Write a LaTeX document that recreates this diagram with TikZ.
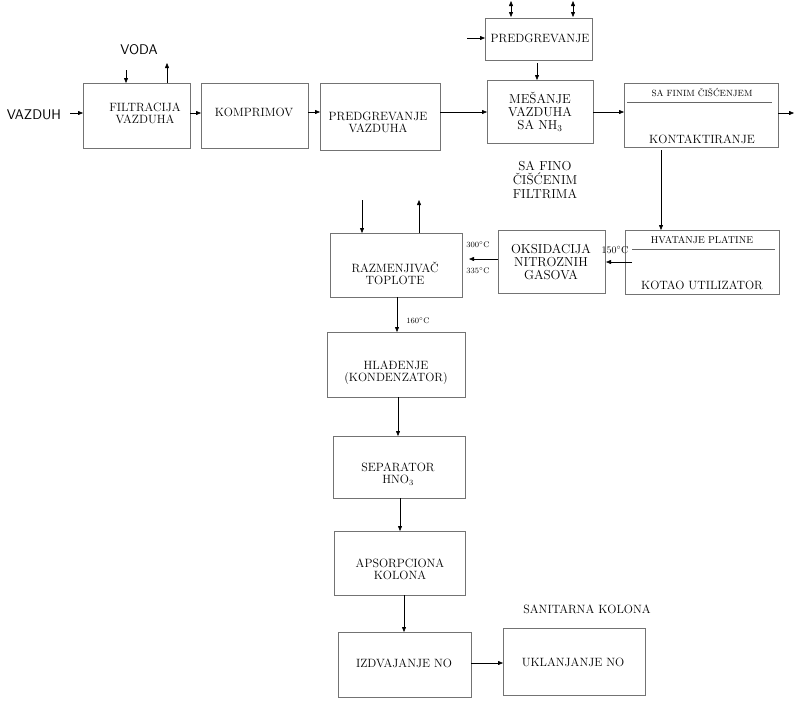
\documentclass[tikz,border=0pt]{standalone}
\usetikzlibrary{arrows.meta}
\begin{document}
\begin{tikzpicture}[x=1pt,y=-1pt,font=\fontsize{12}{12}\selectfont,
  box/.style={draw=black!55,line width=0.5pt},
  flow/.style={-{Triangle[length=5pt,width=4pt]},line width=0.4pt},
  lbl/.style={align=center,inner sep=1pt},
  temp/.style={font=\fontsize{8}{8}\selectfont,inner sep=0pt}]

\useasboundingbox (0,0) rectangle (794,702);

% boxes
\draw[box] (83,83) rectangle (190,148);
\node[lbl,anchor=north] (filt) at (146,105) {};
\node[lbl] at (145,113) {FILTRACIJA\\VAZDUHA};

\draw[box] (201,83) rectangle (308,148);
\node[lbl] at (254,112) {KOMPRIMOV};

\draw[box] (320,83) rectangle (440,150);
\node[lbl] at (378,122) {PREDGREVANJE\\VAZDUHA};

\draw[box] (485,18) rectangle (592,60);
\node[lbl] at (540,38) {PREDGREVANJE};

\draw[box] (487,80) rectangle (593,143);
\node[lbl,font=\fontsize{13}{13}\selectfont] at (540,112) {MEŠANJE\\VAZDUHA\\SA NH$_3$};

\node[lbl,font=\fontsize{13}{14}\selectfont] at (545,180) {SA FINO\\ČIŠĆENIM\\FILTRIMA};

\draw[box] (624,83) rectangle (778,147);
\node[lbl,font=\fontsize{9}{9}\selectfont] at (702,92) {SA FINIM ČIŠĆENJEM};
\draw[black!60] (627,102) -- (772,102);
\node[lbl] at (702,139) {KONTAKTIRANJE};

\draw[box] (625,230) rectangle (779,294);
\node[lbl,font=\fontsize{10}{10}\selectfont] at (702,240) {HVATANJE PLATINE};
\draw[black!60] (632,249) -- (775,249);
\node[lbl] at (702,285) {KOTAO UTILIZATOR};

\draw[box] (498,230) rectangle (605,293);
\node[lbl,font=\fontsize{13}{13}\selectfont] at (551,262) {OKSIDACIJA\\NITROZNIH\\GASOVA};

\draw[box] (330,233) rectangle (462,297);
\node[lbl] at (395,273) {RAZMENJIVAČ\\TOPLOTE};

\draw[box] (327,332) rectangle (465,397);
\node[lbl] at (396,373) {HLAĐENJE\\(KONDENZATOR)};

\draw[box] (333,436) rectangle (465,498);
\node[lbl] at (398,474) {SEPARATOR\\HNO$_3$};

\draw[box] (334,531) rectangle (465,595);
\node[lbl] at (400,569) {APSORPCIONA\\KOLONA};

\draw[box] (338,632) rectangle (471,697);
\node[lbl] at (404,663) {IZDVAJANJE NO};

\draw[box] (503,628) rectangle (645,695);
\node[lbl] at (573,662) {UKLANJANJE NO};
\node[lbl] at (587,609) {SANITARNA KOLONA};

% free texts
\node[lbl,font=\sffamily\fontsize{14}{14}\selectfont] at (34,115) {VAZDUH};
\node[lbl,font=\sffamily\fontsize{14}{14}\selectfont] at (139,50) {VODA};

% temperatures
\node[temp] at (478,245) {300$^\circ$C};
\node[temp] at (478,271) {335$^\circ$C};
\node[temp,font=\fontsize{10}{10}\selectfont] at (615,250) {150$^\circ$C};
\node[temp] at (418,321) {160$^\circ$C};

% connectors
\draw[flow] (70,113) -- (83,113);
\draw[flow] (126,70) -- (126,83);
\draw[flow] (167,83) -- (167,63);
\draw[flow] (190,113) -- (201,113);
\draw[flow] (308,112) -- (320,112);
\draw[flow] (440,112) -- (487,112);
\draw[flow] (593,112) -- (624,112);
\draw[flow] (778,113) -- (794,113);
\draw[flow] (467,38) -- (485,38);
\draw[flow] (537,63) -- (537,80);
\foreach \xa in {511,573}{
  \draw[flow] (\xa,9) -- (\xa,17);
  \draw[flow] (\xa,9) -- (\xa,1);
}
\draw[flow] (661,150) -- (661,230);
\draw[flow] (632,262) -- (606,262);
\draw[flow] (498,259) -- (469,259);
\draw[flow] (362,200) -- (362,233);
\draw[flow] (419,233) -- (419,200);
\draw[flow] (397,297) -- (397,332);
\draw[flow] (398,397) -- (398,436);
\draw[flow] (400,498) -- (400,531);
\draw[flow] (404,595) -- (404,632);
\draw[flow] (471,663) -- (503,663);

\end{tikzpicture}
\end{document}
